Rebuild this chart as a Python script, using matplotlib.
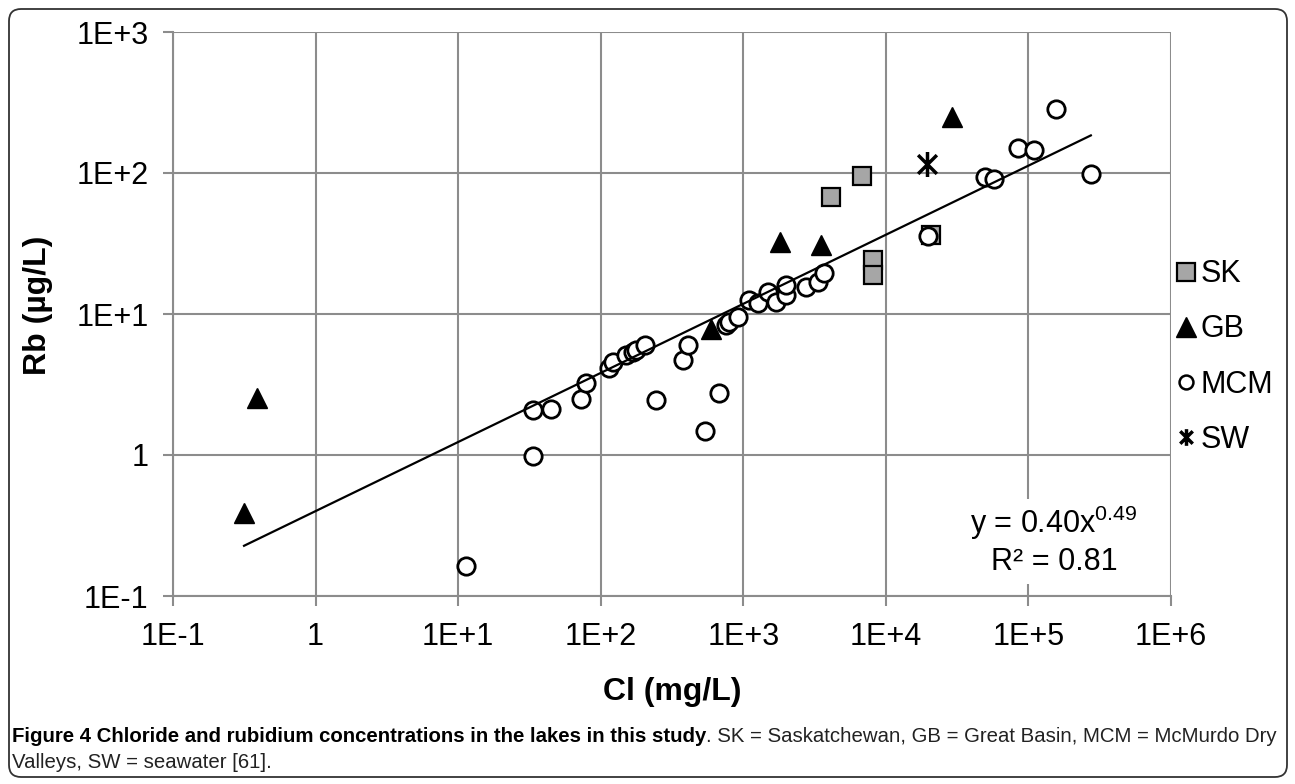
import numpy as np
import matplotlib
matplotlib.use("Agg")
import matplotlib.pyplot as plt
from matplotlib.lines import Line2D
from matplotlib.path import Path
from matplotlib.patches import FancyBboxPatch, Rectangle

plt.rcParams['font.family'] = ['Liberation Sans', 'DejaVu Sans']
plt.rcParams['mathtext.fontset'] = 'custom'
plt.rcParams['mathtext.rm'] = 'Liberation Sans'
plt.rcParams['mathtext.it'] = 'Liberation Sans'

# ---------------------------
# Data (Cl in mg/L, Rb in ug/L)
# ---------------------------
sk_cl = [4130, 6800, 8090, 8090, 20700]
sk_rb = [67.9, 95.7, 24.2, 18.9, 36.3]

gb_cl = [0.315, 0.386, 590, 1795, 3515, 29100]
gb_rb = [0.39, 2.54, 7.8, 32.6, 30.8, 250]

mcm_cl = [11.4, 33.5, 33.5, 45.1, 73.1, 79.3, 114, 122, 151, 168, 178, 203,
          245, 377, 408, 541, 673, 759, 800, 915, 1104, 1265, 1486, 1700,
          2000, 2000, 2760, 3330, 3710, 19900, 49800, 57600, 84400, 108600,
          156000, 274000]
mcm_rb = [0.163, 0.98, 2.08, 2.11, 2.48, 3.22, 4.12, 4.59, 5.12, 5.40, 5.56,
          6.03, 2.45, 4.72, 6.03, 1.48, 2.74, 8.35, 8.82, 9.57, 12.6, 11.9,
          14.4, 12.2, 13.6, 16.1, 15.6, 16.9, 19.4, 35.9, 93.2, 90.6, 150,
          146, 283, 98.4]

sw_cl = [19500]
sw_rb = [116]

# power trendline shown on the chart: y = 0.40 x^0.49
fit_a = 0.40
fit_b = 0.49

x_ticks = [1e-1, 1, 1e1, 1e2, 1e3, 1e4, 1e5, 1e6]
x_ticklabels = ['1E-1', '1', '1E+1', '1E+2', '1E+3', '1E+4', '1E+5', '1E+6']
y_ticks = [1e-1, 1, 1e1, 1e2, 1e3]
y_ticklabels = ['1E-1', '1', '1E+1', '1E+2', '1E+3']

grid_col = '#8c8c8c'

# star marker (vertical bar + X), like the Excel star
star = Path([(0, -1), (0, 1), (-0.75, -0.75), (0.75, 0.75), (-0.75, 0.75), (0.75, -0.75)],
            [Path.MOVETO, Path.LINETO, Path.MOVETO, Path.LINETO, Path.MOVETO, Path.LINETO])

W, H = 1295, 784
fig = plt.figure(figsize=(W / 100, H / 100), dpi=100)
ax = fig.add_axes([173 / W, 1 - 596 / H, 998 / W, 564 / H])

ax.set_xscale('log')
ax.set_yscale('log')
ax.set_xlim(1e-1, 1e6)
ax.set_ylim(1e-1, 1e3)

ax.plot(sk_cl, sk_rb, 's', ms=13.5, mfc='#a6a6a6', mec='black', mew=1.6, zorder=3)
ax.plot(gb_cl, gb_rb, '^', ms=14, mfc='black', mec='black', mew=1, zorder=3)
ax.plot(mcm_cl, mcm_rb, 'o', ms=12.5, mfc='white', mec='black', mew=2, zorder=4)
ax.plot(sw_cl, sw_rb, marker=star, linestyle='none', ms=18, mec='black', mew=2.5, zorder=5)

all_cl = sk_cl + gb_cl + mcm_cl + sw_cl
xs = np.logspace(np.log10(min(all_cl)), np.log10(max(all_cl)), 100)
ax.plot(xs, fit_a * xs ** fit_b, color='black', lw=1.6, zorder=6)

ax.set_xticks(x_ticks)
ax.set_xticklabels(x_ticklabels)
ax.set_yticks(y_ticks)
ax.set_yticklabels(y_ticklabels)
ax.minorticks_off()
ax.tick_params(axis='both', which='major', direction='out', length=7.2, width=1.5,
               color=grid_col, labelsize=22, pad=10.5)
ax.tick_params(axis='x', pad=11.5)
ax.grid(True, which='major', color=grid_col, lw=1.5, zorder=0)
ax.set_axisbelow(True)
for s in ['top', 'right']:
    ax.spines[s].set_visible(False)
for s in ['left', 'bottom']:
    ax.spines[s].set_color(grid_col)
    ax.spines[s].set_linewidth(1.5)

# equation box
ax.add_patch(Rectangle((0.79, 0.022), 0.19, 0.15, transform=ax.transAxes,
                       facecolor='white', edgecolor='none', zorder=7))
ax.text(0.883, 0.129, r'y = 0.40x$^{0.49}$', transform=ax.transAxes, ha='center',
        va='center', fontsize=22, zorder=8)
ax.text(0.883, 0.060, 'R² = 0.81', transform=ax.transAxes, ha='center',
        va='center', fontsize=22, zorder=8)

fig.text(672 / W, 1 - 692 / H, 'Cl (mg/L)', ha='center', va='center',
         fontsize=23, weight='bold')
fig.text(38 / W, 1 - 305 / H, 'Rb (µg/L)', ha='center', va='center',
         fontsize=23, weight='bold', rotation=90)

handles = [
    Line2D([], [], marker='s', linestyle='none', ms=13, mfc='#a6a6a6', mec='black', mew=1.6),
    Line2D([], [], marker='^', linestyle='none', ms=14, mfc='black', mec='black'),
    Line2D([], [], marker='o', linestyle='none', ms=10, mfc='white', mec='black', mew=1.8),
    Line2D([], [], marker=star, linestyle='none', ms=12, mec='black', mew=2.5),
]
fig.legend(handles, ['SK', 'GB', 'MCM', 'SW'], loc='center left',
           bbox_to_anchor=(1175 / W, 1 - 357 / H), frameon=False, fontsize=22,
           handlelength=0.7, handletextpad=0.15, labelspacing=0.82, borderpad=0,
           borderaxespad=0)

# outer rounded border
fig.patches.append(FancyBboxPatch((0.09, 0.07), 12.78, 7.68,
                                  boxstyle='round,pad=0,rounding_size=0.12',
                                  transform=fig.dpi_scale_trans, facecolor='none',
                                  edgecolor='#333333', lw=1.3))

# caption (line 1 spread over the width of the frame)
bold_part = 'Figure 4 Chloride and rubidium concentrations in the lakes in this study'
rest_part = '. SK = Saskatchewan, GB = Great Basin, MCM = McMurdo Dry'
line2 = 'Valleys, SW = seawater [61].'

renderer = fig.canvas.get_renderer()
t1 = fig.text(12 / W, 1 - 737 / H, bold_part, fontsize=12, weight='bold',
              va='center', ha='left', color='black')
t2 = fig.text(0, 1 - 737 / H, rest_part, fontsize=12, va='center', ha='left',
              color='#222222')
total = t1.get_window_extent(renderer).width + t2.get_window_extent(renderer).width
fs = 12 * 1264 / total
t1.set_fontsize(fs)
t2.set_fontsize(fs)
w1 = t1.get_window_extent(renderer).width
t2.set_x((12 + w1) / W)
fig.text(12 / W, 1 - 762 / H, line2, fontsize=fs, va='center', ha='left',
         color='#222222')

fig.savefig('out.png', dpi=100)
